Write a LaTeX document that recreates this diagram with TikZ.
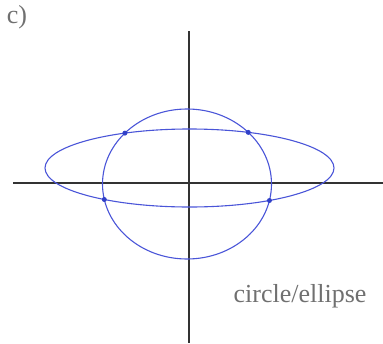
\documentclass[tikz,border=0pt]{standalone}
\usepackage{fontspec}
\setmainfont{Liberation Serif}
\usetikzlibrary{intersections}

\definecolor{axisgray}{HTML}{333333}
\definecolor{curveblue}{HTML}{4A55D8}
\definecolor{dotblue}{HTML}{3040C8}
\definecolor{labelgray}{HTML}{707070}

\begin{document}
\begin{tikzpicture}[
    x=1pt, y=-1pt,
    axis/.style={draw=axisgray, line width=1.4pt},
    curve/.style={draw=curveblue, line width=1.1pt},
    crossdot/.style={fill=dotblue},
    label/.style={text=labelgray, font=\fontsize{26}{30}\selectfont, inner sep=0pt}
]
\useasboundingbox (0,0) rectangle (383,343);

% Axes
\coordinate (xleft) at (13,183);
\coordinate (xright) at (383,183);
\coordinate (ytop) at (189,31);
\coordinate (ybottom) at (189,343);
\draw[axis] (xleft) -- (xright);
\draw[axis] (ytop) -- (ybottom);

% Circle and ellipse
\draw[curve, name path=circ] (187,184) ellipse [x radius=84.5, y radius=75];
\draw[curve, name path=ell] (189.5,168) ellipse [x radius=144.5, y radius=39];

% Intersection points
\path[name intersections={of=circ and ell, name=cut, total=\ncut}]
    \foreach \k in {1,...,\ncut} {(cut-\k) node[circle, crossdot, inner sep=0pt, minimum size=5pt] (dot\k) {}};

% Labels
\node[label] (part) at (17,17) {c)};
\node[label] (name) at (300,296) {circle/ellipse};

\end{tikzpicture}
\end{document}
